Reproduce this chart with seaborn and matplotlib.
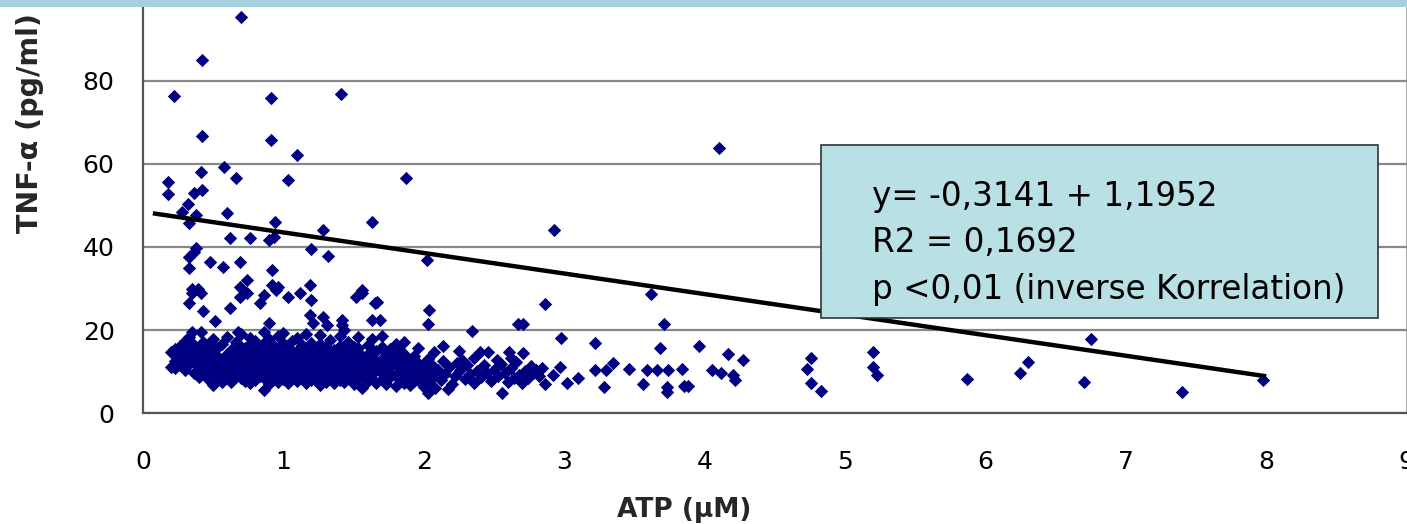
import numpy as np
import pandas as pd
import matplotlib
matplotlib.use("Agg")
import matplotlib.pyplot as plt
import seaborn as sns
from matplotlib.patches import Rectangle

#----------------------------------
# Data
#----------------------------------
# high values, x < 2.1
upper_pts = [
    (0.70, 95.2), (0.42, 85.0), (0.22, 76.3), (0.91, 75.9), (1.41, 76.8),
    (0.42, 66.7), (0.91, 65.7), (1.10, 62.1), (0.58, 59.3), (0.41, 58.0),
    (0.66, 56.6), (1.03, 56.1), (1.87, 56.6), (0.18, 55.6), (0.18, 52.7),
    (0.36, 53.0), (0.42, 53.7), (0.32, 50.3), (0.28, 48.4), (0.38, 47.7),
    (0.60, 48.2), (0.33, 45.8), (0.94, 46.0), (1.63, 46.0), (1.28, 44.1),
    (0.62, 42.2), (0.76, 42.2), (0.90, 41.7), (0.93, 42.4), (1.20, 39.5),
    (0.38, 39.7), (0.36, 38.8), (1.32, 37.9), (0.33, 37.6), (2.02, 36.9),
    (0.48, 36.4), (0.69, 36.4), (0.57, 35.2), (0.33, 35.0), (0.92, 34.5),
    (0.74, 32.0), (0.35, 30.0), (0.39, 30.0), (0.69, 30.4), (0.92, 30.8),
    (0.96, 30.4), (1.19, 30.8), (1.56, 29.7), (0.35, 29.0), (0.41, 29.0),
    (0.33, 26.5), (0.43, 24.6), (0.51, 22.2), (0.62, 25.3), (0.69, 28.0),
    (0.74, 29.0), (0.83, 26.5), (0.86, 28.4), (0.95, 29.6), (1.03, 28.0),
    (1.12, 29.0), (1.20, 27.2), (1.19, 23.7), (1.21, 21.7), (1.28, 23.1),
    (1.31, 21.2), (1.42, 22.4), (1.42, 21.2), (1.52, 28.0), (1.56, 29.0),
    (1.65, 26.5), (1.67, 26.8), (1.63, 22.4), (1.69, 22.4), (2.04, 24.9),
    (2.03, 21.5), (0.90, 21.7), (0.68, 19.6), (0.35, 19.6), (0.41, 19.6),
    (0.33, 18.4),
]

# dense cloud 0.2 - 2.06 (x, list of y)
blob_cols = [
    (0.20, [11.2, 14.8]), (0.23, [12.5, 15.5, 10.8]), (0.26, [13.8, 16.2, 11.6]),
    (0.30, [12.9, 14.6, 10.5, 17.5]), (0.33, [11.8, 15.2, 13.5]),
    (0.36, [9.6, 12.4, 16.4, 14.1]), (0.40, [10.4, 13.2, 8.8, 15.5, 11.5]),
    (0.43, [12.2, 14.8, 9.9, 17.2]), (0.46, [11.0, 13.6, 8.3, 16.1]),
    (0.50, [6.8, 9.7, 12.6, 14.4, 10.9, 17.9]), (0.53, [8.1, 11.8, 13.9, 15.8]),
    (0.56, [9.4, 12.9, 10.6, 16.6, 7.6]), (0.60, [8.6, 11.3, 14.2, 12.1, 18.4, 9.9]),
    (0.63, [7.5, 10.2, 13.1, 15.3, 11.7]), (0.66, [8.9, 12.5, 14.7, 10.8, 17.1]),
    (0.70, [8.5, 11.1, 13.6, 9.6, 16.0, 12.4, 19.0]), (0.73, [7.8, 10.4, 14.3, 12.0, 15.7]),
    (0.76, [7.3, 9.2, 11.6, 13.3, 16.7, 18.2]), (0.80, [8.0, 10.7, 12.8, 14.9, 11.4, 17.4]),
    (0.83, [9.0, 12.2, 13.8, 15.6, 10.1]), (0.86, [5.6, 8.4, 11.0, 14.4, 16.9, 19.5, 12.7]),
    (0.90, [7.0, 9.8, 12.3, 15.1, 13.4, 17.8, 10.6]), (0.93, [8.7, 11.5, 14.0, 16.3, 12.9]),
    (0.96, [7.6, 10.3, 13.0, 15.4, 18.6, 11.8]),
    (1.00, [8.2, 9.4, 12.0, 14.6, 16.8, 10.9, 13.7, 19.2]), (1.03, [7.4, 11.2, 13.3, 15.9, 9.7]),
    (1.06, [8.8, 10.5, 12.6, 14.2, 17.3, 11.9]), (1.10, [7.7, 9.9, 13.5, 15.0, 12.2, 18.0]),
    (1.13, [8.5, 11.0, 14.1, 16.4, 10.3]), (1.16, [7.2, 9.5, 12.8, 13.9, 15.7, 19.0]),
    (1.20, [8.0, 10.8, 11.9, 14.7, 17.0, 12.9, 9.1]), (1.23, [7.9, 10.1, 13.2, 15.3, 11.4]),
    (1.26, [6.9, 9.3, 12.4, 14.5, 16.6, 18.8]), (1.30, [8.4, 10.6, 11.7, 13.8, 15.9, 9.6, 7.5]),
    (1.33, [9.0, 12.0, 14.3, 17.6, 10.9]), (1.36, [7.3, 8.9, 11.3, 13.1, 15.2, 12.6]),
    (1.40, [8.1, 10.2, 12.2, 14.0, 16.2, 18.5, 9.5, 11.6]), (1.43, [7.6, 11.0, 13.5, 15.6, 20.0]),
    (1.46, [8.6, 10.4, 12.8, 14.8, 17.2]), (1.50, [7.0, 9.7, 11.5, 13.3, 16.0, 12.4]),
    (1.53, [8.3, 10.8, 14.5, 15.7, 18.3]), (1.56, [6.2, 9.1, 12.1, 13.7, 11.2]),
    (1.60, [7.8, 10.0, 12.9, 14.2, 16.5, 8.7]), (1.63, [9.4, 11.8, 13.4, 15.3, 17.8]),
    (1.66, [7.4, 10.5, 12.5, 14.9]), (1.70, [8.2, 9.6, 11.4, 13.0, 16.0, 18.7]),
    (1.73, [7.1, 10.3, 12.2, 14.4]), (1.76, [8.8, 11.1, 13.6, 15.5, 9.8]),
    (1.80, [6.5, 9.2, 12.0, 14.1, 16.7]), (1.83, [8.0, 10.7, 13.0, 15.2]),
    (1.86, [7.4, 9.9, 11.7, 17.2, 14.3]), (1.90, [8.6, 10.4, 12.5, 6.9]),
    (1.93, [9.2, 11.3, 13.8, 7.8]), (1.96, [8.1, 10.0, 12.0, 15.6]),
    (2.00, [6.4, 8.9, 10.6, 11.9]), (2.03, [5.0, 7.5, 9.6, 13.1]),
    (2.06, [6.1, 8.4, 10.2, 11.5]),
]

# x from 2 to 3
mid_pts = [
    (2.34, 19.8), (2.86, 26.3), (2.67, 21.4), (2.71, 21.4), (2.98, 18.1),
    (2.07, 14.7), (2.14, 16.2), (2.25, 15.0), (2.40, 14.7), (2.46, 14.7),
    (2.61, 14.7), (2.71, 14.4), (2.10, 10.4), (2.12, 8.0), (2.15, 9.5),
    (2.18, 11.2), (2.20, 7.0), (2.22, 9.0), (2.26, 10.3), (2.29, 8.2),
    (2.31, 11.5), (2.33, 9.4), (2.36, 7.4), (2.38, 10.1), (2.41, 8.7),
    (2.43, 11.6), (2.45, 9.6), (2.48, 7.8), (2.50, 10.5), (2.53, 8.9),
    (2.55, 11.9), (2.56, 4.9), (2.58, 9.8), (2.60, 7.5), (2.62, 10.8),
    (2.64, 8.4), (2.66, 12.4), (2.68, 9.2), (2.70, 7.2), (2.72, 10.1),
    (2.74, 8.6), (2.76, 11.3), (2.78, 9.6), (2.80, 10.4), (2.82, 8.9),
    (2.84, 11.0), (2.14, 12.6), (2.27, 12.9), (2.36, 13.4), (2.52, 12.7),
    (2.62, 13.2), (2.05, 9.0), (2.08, 6.2), (2.17, 5.8), (2.24, 12.1),
]

# x > 2.85, sparse
right_pts = [
    (2.86, 7.0), (2.92, 9.2), (2.97, 11.2), (3.02, 7.3), (3.10, 8.5),
    (3.22, 10.4), (3.28, 6.3), (3.30, 10.4), (3.35, 12.1), (3.46, 10.7),
    (3.56, 7.0), (3.59, 10.4), (3.66, 10.4), (3.73, 6.3), (3.73, 5.2),
    (3.74, 10.4), (3.84, 10.7), (3.85, 6.6), (3.88, 6.6), (4.05, 10.4),
    (4.12, 9.7), (4.20, 9.2), (4.22, 8.0), (3.22, 16.9), (3.62, 28.7),
    (3.71, 21.4), (3.68, 15.7), (3.96, 16.2), (4.17, 14.3), (4.27, 12.8),
    (4.76, 13.3), (4.73, 10.7), (4.76, 7.3), (4.83, 5.4), (5.20, 14.7),
    (5.20, 11.1), (5.23, 9.2), (5.87, 8.2), (6.25, 9.8), (6.30, 12.3),
    (6.70, 7.6), (6.75, 17.8), (7.40, 5.1), (7.98, 8.1), (4.10, 63.8),
    (2.93, 44.2),
]

# regression line end points
trend_x = [0.07, 8.0]
trend_y = [48.1, 8.9]

stat_lines = ["y= -0,3141 + 1,1952", "R2 = 0,1692", "p <0,01 (inverse Korrelation)"]

x_ticks = list(range(0, 10))
y_ticks = list(range(0, 101, 20))

#----------------------------------
# Build table
#----------------------------------
rows = list(upper_pts) + list(mid_pts) + list(right_pts)
for bx, ys in blob_cols:
    for by in ys:
        rows.append((bx, by))
df = pd.DataFrame(rows, columns=["atp", "tnf"])

#----------------------------------
# Plot
#----------------------------------
sns.set_style("white")
plt.rcParams["font.family"] = ["DejaVu Sans"]

W, H = 1407, 524
fig = plt.figure(figsize=(W / 100, H / 100), dpi=100)
ax = fig.add_axes([143 / W, (H - 413.3) / H, (1406.6 - 143) / W, (413.3 + 2.5) / H])

sns.scatterplot(data=df, x="atp", y="tnf", marker="D", s=46, color="#000080",
                linewidth=0, ax=ax, zorder=3)
ax.plot(trend_x, trend_y, color="black", lw=3.2, zorder=4, solid_capstyle="butt")

# stats box
ax.add_patch(Rectangle((4.829, 22.9), 8.796 - 4.829, 64.5 - 22.9,
                       facecolor="#B9E0E4", edgecolor="#333333", lw=1.2, zorder=5))
for i, line in enumerate(stat_lines):
    fig.text(872 / W, 1 - (206 + i * 46.5) / H, line, fontsize=23.5,
             ha="left", va="baseline", color="black", zorder=6)

ax.set_xlim(0, 9)
ax.set_ylim(0, 100)
ax.set_xticks(x_ticks)
ax.set_yticks(y_ticks)
ax.tick_params(axis="both", direction="out", length=7.5, width=1.4, color="#555555",
               labelsize=18, labelcolor="black")
ax.tick_params(axis="x", pad=19)
ax.tick_params(axis="y", pad=13)
ax.yaxis.grid(True, color="#888888", lw=1.6)
ax.xaxis.grid(False)
ax.set_axisbelow(True)

for side in ["left", "bottom"]:
    ax.spines[side].set_color("#555555")
    ax.spines[side].set_linewidth(1.6)
ax.spines["right"].set_color("#999999")
ax.spines["right"].set_linewidth(1.2)
ax.spines["top"].set_visible(False)

ax.set_xlabel("ATP (µM)", fontsize=19, fontweight="bold")
ax.set_ylabel("TNF-α (pg/ml)", fontsize=20.5, fontweight="bold")
ax.xaxis.set_label_coords((684 - 143) / (1406.6 - 143), (413.3 - 510) / 415.8)
ax.xaxis.label.set_verticalalignment("center")
ax.yaxis.set_label_coords((30 - 143) / (1406.6 - 143), (413.3 - 123) / 415.8)
ax.yaxis.label.set_verticalalignment("center")

# light blue band on top
fig.add_artist(Rectangle((0, 1 - 7 / H), 1, 7 / H, transform=fig.transFigure,
                         facecolor="#A7CFE0", edgecolor="none", zorder=10))

fig.savefig("out.png", dpi=100)
